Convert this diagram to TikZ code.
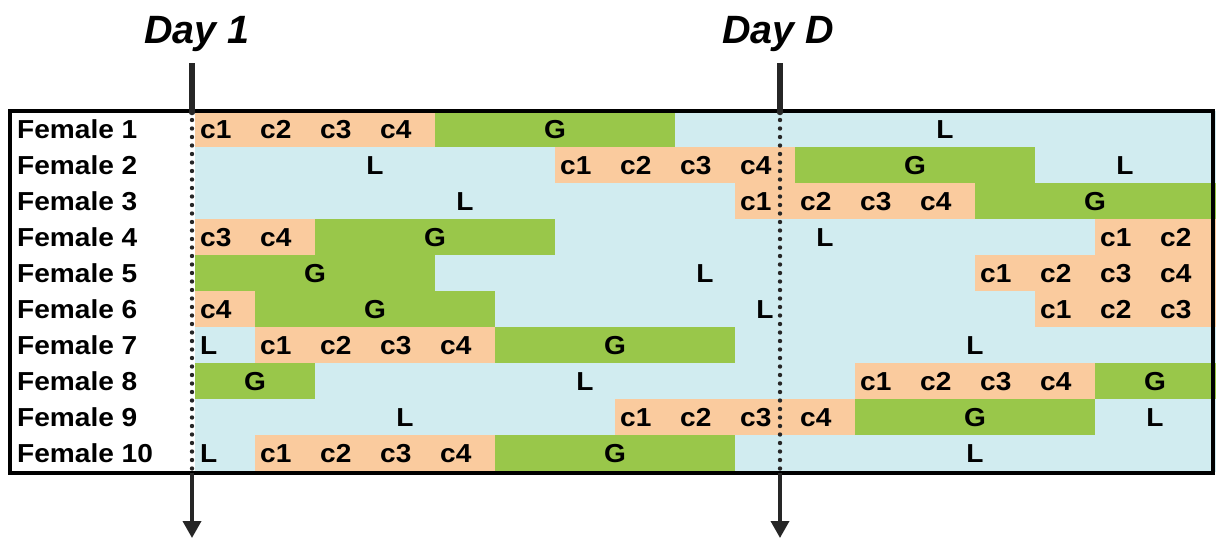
\documentclass[tikz,border=0pt]{standalone}
\usepackage{fontspec}
\setmainfont{Liberation Sans}
\newfontfamily\cellfont{Liberation Sans}[FakeStretch=1.08]
\usetikzlibrary{arrows.meta}
\definecolor{cyccol}{HTML}{FACB9E}
\definecolor{lutcol}{HTML}{D1ECF0}
\definecolor{grocol}{HTML}{99C74A}
\definecolor{inkcol}{HTML}{262626}
\tikzset{
  lab/.style={inner sep=0pt, font=\cellfont\bfseries\fontsize{26}{30}\selectfont},
  daylab/.style={inner sep=0pt, anchor=base, font=\bfseries\itshape\fontsize{39.5}{44}\selectfont},
  Cf/.style={fill=cyccol}, Lf/.style={fill=lutcol}, Gf/.style={fill=grocol},
  thickline/.style={draw=inkcol, line width=6.5pt},
  dotline/.style={draw=inkcol, line width=4.4pt, line cap=round, dash pattern=on 0pt off 8.5pt},
  arrline/.style={draw=inkcol, line width=3.6pt, -{Triangle[width=18pt 0, length=17pt 0]}}
}
\newcommand\segband[5]{%
  \pgfmathsetmacro\xa{195+60*#2}%
  \pgfmathsetmacro\xb{195+60*(#3+1)}%
  \pgfmathsetmacro\yy{111+36*(#1-1)}%
  \fill[#4] (\xa,\yy) rectangle (\xb+0.5,\yy+36.5);
  \node[lab, anchor=base] (r#1c#2) at ({(\xa+\xb)/2},\yy+27.2) {#5};
}
\newcommand\onecell[4]{%
  \pgfmathsetmacro\xa{195+60*#2}%
  \pgfmathsetmacro\yy{111+36*(#1-1)}%
  \fill[#3] (\xa,\yy) rectangle (\xa+60.5,\yy+36.5);
  \node[lab, anchor=base west] (r#1c#2) at (\xa+5,\yy+27.2) {#4};
}
\begin{document}
\begin{tikzpicture}[x=1pt,y=-1pt]
\useasboundingbox (0,0) rectangle (1217,541);
% Female 1
\onecell{1}{0}{Cf}{c1}\onecell{1}{1}{Cf}{c2}\onecell{1}{2}{Cf}{c3}\onecell{1}{3}{Cf}{c4}
\segband{1}{4}{7}{Gf}{G}\segband{1}{8}{16}{Lf}{L}
% Female 2
\segband{2}{0}{5}{Lf}{L}
\onecell{2}{6}{Cf}{c1}\onecell{2}{7}{Cf}{c2}\onecell{2}{8}{Cf}{c3}\onecell{2}{9}{Cf}{c4}
\segband{2}{10}{13}{Gf}{G}\segband{2}{14}{16}{Lf}{L}
% Female 3
\segband{3}{0}{8}{Lf}{L}
\onecell{3}{9}{Cf}{c1}\onecell{3}{10}{Cf}{c2}\onecell{3}{11}{Cf}{c3}\onecell{3}{12}{Cf}{c4}
\segband{3}{13}{16}{Gf}{G}
% Female 4
\onecell{4}{0}{Cf}{c3}\onecell{4}{1}{Cf}{c4}
\segband{4}{2}{5}{Gf}{G}\segband{4}{6}{14}{Lf}{L}
\onecell{4}{15}{Cf}{c1}\onecell{4}{16}{Cf}{c2}
% Female 5
\segband{5}{0}{3}{Gf}{G}\segband{5}{4}{12}{Lf}{L}
\onecell{5}{13}{Cf}{c1}\onecell{5}{14}{Cf}{c2}\onecell{5}{15}{Cf}{c3}\onecell{5}{16}{Cf}{c4}
% Female 6
\onecell{6}{0}{Cf}{c4}
\segband{6}{1}{4}{Gf}{G}\segband{6}{5}{13}{Lf}{L}
\onecell{6}{14}{Cf}{c1}\onecell{6}{15}{Cf}{c2}\onecell{6}{16}{Cf}{c3}
% Female 7
\onecell{7}{0}{Lf}{L}
\onecell{7}{1}{Cf}{c1}\onecell{7}{2}{Cf}{c2}\onecell{7}{3}{Cf}{c3}\onecell{7}{4}{Cf}{c4}
\segband{7}{5}{8}{Gf}{G}\segband{7}{9}{16}{Lf}{L}
% Female 8
\segband{8}{0}{1}{Gf}{G}\segband{8}{2}{10}{Lf}{L}
\onecell{8}{11}{Cf}{c1}\onecell{8}{12}{Cf}{c2}\onecell{8}{13}{Cf}{c3}\onecell{8}{14}{Cf}{c4}
\segband{8}{15}{16}{Gf}{G}
% Female 9
\segband{9}{0}{6}{Lf}{L}
\onecell{9}{7}{Cf}{c1}\onecell{9}{8}{Cf}{c2}\onecell{9}{9}{Cf}{c3}\onecell{9}{10}{Cf}{c4}
\segband{9}{11}{14}{Gf}{G}\segband{9}{15}{16}{Lf}{L}
% Female 10
\onecell{10}{0}{Lf}{L}
\onecell{10}{1}{Cf}{c1}\onecell{10}{2}{Cf}{c2}\onecell{10}{3}{Cf}{c3}\onecell{10}{4}{Cf}{c4}
\segband{10}{5}{8}{Gf}{G}\segband{10}{9}{16}{Lf}{L}
% row labels
\foreach \i in {1,...,10}{
  \node[lab, anchor=base west] (f\i) at (17,{111+36*(\i-1)+27.2}) {Female \i};
}
% frame
\draw[line width=4pt] (10,111) rectangle (1213,473);
% day markers
\node[daylab] (day1) at (197,43) {Day 1};
\node[daylab] (dayD) at (778,43) {Day D};
\foreach \n/\x in {a/192, b/780}{
  \coordinate (t\n) at (\x,63);
  \coordinate (m\n) at (\x,112);
  \coordinate (s\n) at (\x,120);
  \coordinate (b\n) at (\x,473);
  \coordinate (e\n) at (\x,538);
  \draw[thickline] (t\n) -- (m\n);
  \fill[inkcol] (m\n) circle (3.25pt);
  \draw[dotline] (s\n) -- (b\n);
  \draw[arrline] (b\n) -- (e\n);
}
\end{tikzpicture}
\end{document}
